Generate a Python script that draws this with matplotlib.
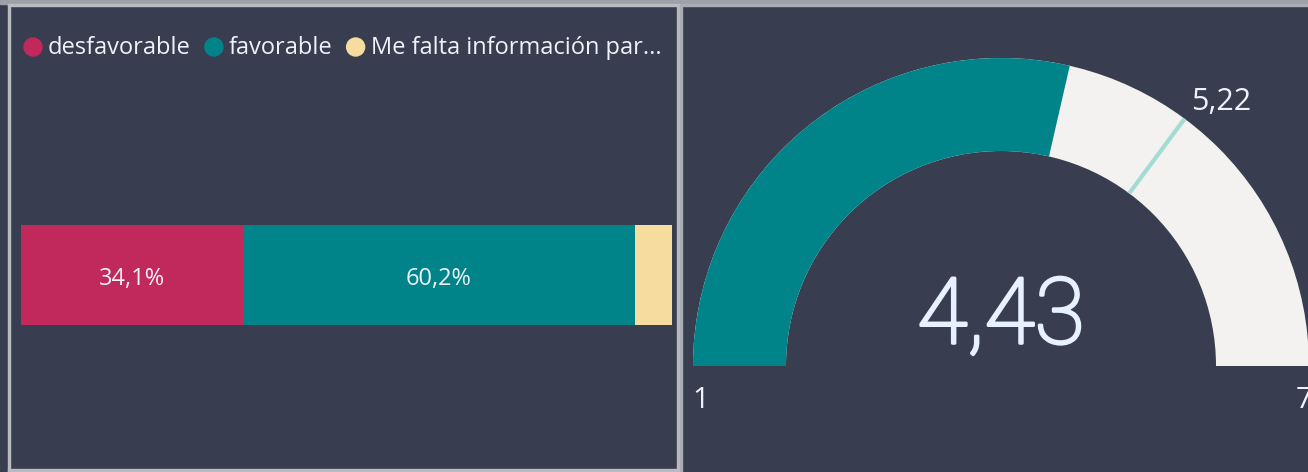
import matplotlib
matplotlib.use("Agg")
import matplotlib.pyplot as plt
import matplotlib.patheffects as pe
from matplotlib.patches import Wedge, Rectangle, Ellipse
import numpy as np

# data
categories = ["desfavorable", "favorable", "Me falta información par..."]
shares = [34.1, 60.2, 5.7]
bar_colors = ["#C1285C", "#01838A", "#F7DCA0"]

gauge_min = 1
gauge_max = 7
gauge_value = 4.43
gauge_target = 5.22

BG = "#383E4F"
TXT = "#EEF2FA"
W, H = 1308, 472

plt.rcParams['font.family'] = ['Open Sans', 'DejaVu Sans']

fig = plt.figure(figsize=(W / 100, H / 100), dpi=100)
fig.patch.set_facecolor(BG)

# panel frames (pixel coords -> figure fraction)
def frect(x0, y0, x1, y1, color):
    fig.patches.append(Rectangle((x0 / W, 1 - y1 / H), (x1 - x0) / W, (y1 - y0) / H,
                                 transform=fig.transFigure, color=color, zorder=0))

frect(0, 0, W, 4, "#9EA1A9")
frect(8, 4, 10, H, "#B9BBC0")
frect(8, 4, 679, 6, "#B9BBC0")
frect(677, 4, 679, H, "#B9BBC0")
frect(680, 4, 682, H, "#A9ACB2")
frect(682, 4, W, 6, "#A9ACB2")
frect(8, 469, 679, 471, "#B9BBC0")

# ---- left: 100% stacked bar
ax = fig.add_axes([21 / W, 1 - 325 / H, 651 / W, 100 / H])
ax.set_facecolor("none")
left = 0
for cat, val, col in zip(categories, shares, bar_colors):
    ax.barh(0, val, left=left, height=1, color=col, edgecolor="none")
    if val > 10:
        ax.text(left + val / 2, -0.04, f"{val:.1f}%".replace(".", ","), ha="center", va="center",
                color=TXT, fontsize=17)
    left += val
ax.set_xlim(0, 100)
ax.set_ylim(-0.5, 0.5)
ax.axis("off")

# legend
lx = 33
for cat, col in zip(categories, bar_colors):
    fig.patches.append(Ellipse((lx / W, 1 - 47 / H), 18 / W, 18 / H, transform=fig.transFigure,
                               color=col, zorder=3))
    t = fig.text((lx + 15) / W, 1 - 48 / H, cat, color=TXT, fontsize=17, va="center", ha="left")
    fig.canvas.draw()
    bb = t.get_window_extent()
    lx = bb.x1 + 23

# ---- right: gauge
cx, cy = 1001, 366
r_out, band = 308, 93
gx = fig.add_axes([682 / W, 0, (W - 682) / W, 1 - 6 / H])
gx.set_facecolor("none")
gx.set_xlim(682 - cx, W - cx)
gx.set_ylim(-(H - cy), cy - 6)
gx.axis("off")


def ang(v):
    return 180 - (v - gauge_min) / (gauge_max - gauge_min) * 180


gx.add_patch(Wedge((0, 0), r_out, 0, 180, width=band, color="#F3F2F1", lw=0))
gx.add_patch(Wedge((0, 0), r_out, ang(gauge_value), 180, width=band, color="#01838A", lw=0))

a = np.radians(ang(gauge_target))
gx.plot([(r_out - band) * np.cos(a), r_out * np.cos(a)],
        [(r_out - band) * np.sin(a), r_out * np.sin(a)], color="#A2DCD3", lw=3, solid_capstyle="butt")
gx.text((r_out + 10) * np.cos(a), (r_out + 6) * np.sin(a) - 3, f"{gauge_target:.2f}".replace(".", ","),
        color=TXT, fontsize=22, ha="left", va="bottom")

gx.text(0, 48, f"{gauge_value:.2f}".replace(".", ","), color="#E8F1FF", fontsize=66,
        ha="center", va="center", family=["Roboto", "DejaVu Sans"], fontweight="light",
        path_effects=[pe.withStroke(linewidth=2.2, foreground="#E8F1FF")])
gx.text(-r_out - 1, -34, str(gauge_min), color=TXT, fontsize=21, ha="left", va="center")
gx.text(r_out - 13, -34, str(gauge_max), color=TXT, fontsize=21, ha="left", va="center")

fig.savefig("out.png", dpi=100, facecolor=BG)
